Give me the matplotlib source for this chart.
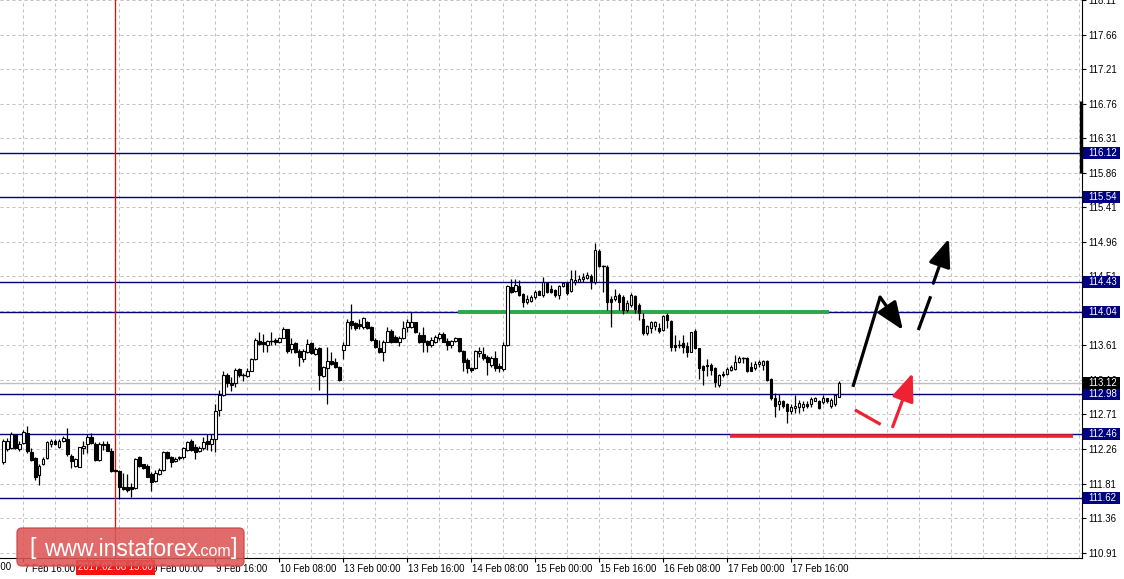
import matplotlib

matplotlib.use("Agg")
import matplotlib.pyplot as plt
from matplotlib.patches import Rectangle, FancyBboxPatch
from matplotlib.transforms import blended_transform_factory, ScaledTranslation

# hourly USDJPY candles, bar index 0..209 (7 Feb 11:00 .. 17 Feb 20:00)
opens = [
    112.09, 112.26, 112.27, 112.44, 112.26, 112.34, 112.47, 112.22, 112.14, 111.92,
    112.06, 112.14, 112.32, 112.37, 112.28, 112.36, 112.39, 112.17, 112.04, 112.03,
    112.27, 112.32, 112.41, 112.33, 112.12, 112.33, 112.32, 112.24, 111.99, 111.97,
    111.76, 111.76, 111.77, 111.75, 112.15, 112.06, 112.04, 111.93, 111.84, 111.93,
    111.99, 112.22, 112.16, 112.10, 112.14, 112.16, 112.25, 112.36, 112.29, 112.23,
    112.27, 112.36, 112.33, 112.39, 112.77, 112.97, 113.23, 113.12, 113.12, 113.30,
    113.22, 113.21, 113.28, 113.43, 113.67, 113.66, 113.62, 113.67, 113.68, 113.66,
    113.71, 113.82, 113.56, 113.64, 113.54, 113.43, 113.53, 113.64, 113.50, 113.57,
    113.21, 113.32, 113.41, 113.39, 113.33, 113.55, 113.62, 113.93, 113.90, 113.89,
    113.85, 113.91, 113.85, 113.68, 113.57, 113.52, 113.66, 113.80, 113.72, 113.66,
    113.70, 113.85, 113.85, 113.91, 113.75, 113.75, 113.67, 113.62, 113.65, 113.70,
    113.76, 113.67, 113.62, 113.67, 113.70, 113.54, 113.42, 113.31, 113.31, 113.51,
    113.50, 113.46, 113.36, 113.45, 113.34, 113.30, 113.62, 114.37, 114.32, 114.38,
    114.28, 114.17, 114.19, 114.24, 114.32, 114.27, 114.42, 114.34, 114.33, 114.27,
    114.38, 114.42, 114.32, 114.44, 114.44, 114.47, 114.49, 114.51, 114.43, 114.84,
    114.64, 114.63, 114.21, 114.21, 114.27, 114.24, 114.07, 114.14, 114.25, 114.14,
    113.96, 113.77, 113.84, 113.86, 113.84, 113.81, 114.01, 113.93, 113.62, 113.62,
    113.64, 113.60, 113.53, 113.80, 113.57, 113.34, 113.36, 113.36, 113.31, 113.09,
    113.24, 113.24, 113.29, 113.30, 113.40, 113.44, 113.44, 113.33, 113.31, 113.37,
    113.36, 113.41, 113.17, 112.92, 112.84, 112.88, 112.84, 112.75, 112.79, 112.81,
    112.81, 112.84, 112.85, 112.89, 112.89, 112.87, 112.92, 112.82, 112.84, 112.94,
]
highs = [
    112.39, 112.40, 112.48, 112.45, 112.36, 112.51, 112.56, 112.27, 112.16, 112.06,
    112.15, 112.37, 112.39, 112.39, 112.39, 112.43, 112.53, 112.19, 112.14, 112.29,
    112.36, 112.46, 112.47, 112.35, 112.35, 112.37, 112.37, 112.27, 112.00, 111.99,
    111.95, 111.93, 111.82, 112.14, 112.17, 112.07, 112.06, 111.96, 111.99, 112.01,
    112.23, 112.24, 112.17, 112.16, 112.17, 112.29, 112.36, 112.39, 112.32, 112.30,
    112.41, 112.45, 112.45, 112.85, 113.03, 113.28, 113.25, 113.20, 113.31, 113.32,
    113.25, 113.31, 113.45, 113.70, 113.78, 113.76, 113.68, 113.78, 113.71, 113.72,
    113.85, 113.83, 113.70, 113.66, 113.56, 113.56, 113.69, 113.66, 113.59, 113.59,
    113.34, 113.59, 113.53, 113.45, 113.34, 113.65, 113.95, 114.15, 113.92, 113.96,
    113.98, 113.93, 113.86, 113.70, 113.68, 113.68, 113.85, 113.82, 113.75, 113.73,
    113.93, 113.95, 114.05, 113.92, 113.78, 113.85, 113.68, 113.72, 113.75, 113.78,
    113.78, 113.71, 113.68, 113.72, 113.71, 113.55, 113.44, 113.33, 113.55, 113.59,
    113.59, 113.49, 113.47, 113.54, 113.38, 113.66, 114.40, 114.48, 114.48, 114.46,
    114.29, 114.27, 114.27, 114.33, 114.33, 114.50, 114.44, 114.40, 114.35, 114.40,
    114.44, 114.44, 114.59, 114.59, 114.53, 114.55, 114.57, 114.54, 114.95, 114.87,
    114.66, 114.66, 114.25, 114.35, 114.29, 114.27, 114.20, 114.29, 114.27, 114.16,
    114.03, 113.88, 113.93, 113.93, 113.90, 114.01, 114.03, 113.94, 113.75, 113.68,
    113.75, 113.66, 113.79, 113.82, 113.58, 113.36, 113.43, 113.38, 113.33, 113.24,
    113.27, 113.33, 113.36, 113.49, 113.47, 113.46, 113.46, 113.40, 113.41, 113.42,
    113.42, 113.42, 113.18, 112.99, 112.98, 112.90, 112.86, 112.84, 112.97, 112.90,
    112.88, 112.88, 112.94, 112.94, 112.90, 112.97, 112.93, 112.92, 112.97, 113.14,
]
lows = [
    112.06, 112.24, 112.26, 112.26, 112.24, 112.33, 112.21, 112.11, 111.85, 111.79,
    112.05, 112.13, 112.29, 112.31, 112.27, 112.35, 112.17, 112.01, 112.03, 112.02,
    112.20, 112.21, 112.33, 112.11, 112.10, 112.25, 112.23, 111.96, 111.96, 111.61,
    111.73, 111.70, 111.64, 111.74, 112.03, 112.00, 111.89, 111.71, 111.83, 111.92,
    111.98, 112.13, 112.03, 112.09, 112.12, 112.13, 112.23, 112.23, 112.13, 112.22,
    112.25, 112.25, 112.23, 112.22, 112.69, 112.95, 113.07, 113.01, 113.07, 113.20,
    113.14, 113.20, 113.27, 113.42, 113.62, 113.53, 113.53, 113.62, 113.62, 113.64,
    113.70, 113.51, 113.51, 113.51, 113.34, 113.40, 113.51, 113.50, 113.49, 113.03,
    113.20, 112.84, 113.36, 113.32, 113.14, 113.43, 113.61, 113.83, 113.81, 113.83,
    113.83, 113.82, 113.67, 113.57, 113.51, 113.41, 113.65, 113.64, 113.65, 113.60,
    113.69, 113.78, 113.84, 113.77, 113.64, 113.53, 113.53, 113.59, 113.64, 113.68,
    113.65, 113.55, 113.57, 113.65, 113.53, 113.27, 113.25, 113.26, 113.30, 113.46,
    113.42, 113.23, 113.33, 113.28, 113.26, 113.27, 113.60, 114.29, 114.31, 114.25,
    114.11, 114.15, 114.18, 114.22, 114.27, 114.24, 114.29, 114.29, 114.24, 114.22,
    114.37, 114.27, 114.31, 114.40, 114.43, 114.44, 114.47, 114.35, 114.41, 114.63,
    114.30, 114.07, 113.85, 114.19, 114.07, 114.02, 114.05, 114.11, 114.03, 113.94,
    113.75, 113.75, 113.77, 113.81, 113.77, 113.80, 113.84, 113.54, 113.54, 113.57,
    113.51, 113.46, 113.52, 113.56, 113.17, 113.10, 113.21, 113.23, 113.07, 113.07,
    113.20, 113.23, 113.27, 113.29, 113.38, 113.38, 113.26, 113.27, 113.29, 113.33,
    113.29, 113.15, 112.90, 112.68, 112.77, 112.79, 112.60, 112.71, 112.73, 112.73,
    112.75, 112.79, 112.81, 112.88, 112.78, 112.85, 112.86, 112.79, 112.82, 112.94,
]
closes = [
    112.36, 112.37, 112.45, 112.27, 112.33, 112.48, 112.23, 112.12, 111.90, 112.04,
    112.13, 112.35, 112.37, 112.32, 112.37, 112.40, 112.19, 112.10, 112.13, 112.28,
    112.30, 112.41, 112.34, 112.12, 112.32, 112.31, 112.24, 111.97, 111.97, 111.77,
    111.74, 111.72, 111.74, 112.13, 112.04, 112.01, 111.90, 111.83, 111.95, 111.99,
    112.22, 112.14, 112.09, 112.13, 112.16, 112.27, 112.35, 112.25, 112.22, 112.27,
    112.35, 112.33, 112.39, 112.75, 112.97, 113.23, 113.12, 113.10, 113.29, 113.22,
    113.21, 113.28, 113.43, 113.68, 113.63, 113.63, 113.67, 113.66, 113.66, 113.70,
    113.83, 113.54, 113.63, 113.53, 113.46, 113.54, 113.63, 113.51, 113.56, 113.23,
    113.33, 113.41, 113.37, 113.33, 113.16, 113.62, 113.91, 113.88, 113.84, 113.86,
    113.97, 113.84, 113.68, 113.59, 113.53, 113.65, 113.80, 113.66, 113.66, 113.71,
    113.84, 113.92, 113.91, 113.78, 113.66, 113.65, 113.62, 113.68, 113.72, 113.76,
    113.66, 113.62, 113.67, 113.70, 113.54, 113.40, 113.31, 113.29, 113.54, 113.54,
    113.44, 113.39, 113.45, 113.32, 113.31, 113.62, 114.38, 114.31, 114.40, 114.27,
    114.17, 114.22, 114.24, 114.31, 114.27, 114.43, 114.30, 114.31, 114.27, 114.38,
    114.42, 114.29, 114.47, 114.46, 114.48, 114.50, 114.53, 114.43, 114.85, 114.64,
    114.63, 114.17, 114.18, 114.26, 114.18, 114.07, 114.16, 114.27, 114.09, 114.03,
    113.77, 113.86, 113.91, 113.91, 113.80, 113.99, 113.94, 113.59, 113.59, 113.61,
    113.59, 113.53, 113.78, 113.57, 113.31, 113.29, 113.34, 113.29, 113.13, 113.23,
    113.22, 113.30, 113.33, 113.40, 113.44, 113.43, 113.27, 113.28, 113.37, 113.40,
    113.41, 113.16, 112.92, 112.82, 112.89, 112.82, 112.75, 112.81, 112.82, 112.86,
    112.84, 112.82, 112.91, 112.92, 112.79, 112.92, 112.89, 112.90, 112.97, 113.12,
]

price_ticks = [110.91, 111.36, 111.81, 112.26, 112.71, 113.16, 113.61, 114.06,
               114.51, 114.96, 115.41, 115.86, 116.31, 116.76, 117.21, 117.66, 118.11]
levels = [116.12, 115.54, 114.43, 114.04, 112.98, 112.46, 111.62]
bid = 113.12

# date labels sit every 16 bars, the first one 11 bars before the first candle
date_labels = ["7 Feb 00:00", "7 Feb 16:00", "8 Feb 08:00", "9 Feb 00:00", "9 Feb 16:00",
               "10 Feb 08:00", "13 Feb 00:00", "13 Feb 16:00", "14 Feb 08:00",
               "15 Feb 00:00", "15 Feb 16:00", "16 Feb 08:00", "17 Feb 00:00", "17 Feb 16:00"]
date_pos = [-11 + 16 * k for k in range(len(date_labels))]
cross_bar = 28
cross_label = "2017.02.08 15:00"

# analyst markup (bar index, price)
support_zone = (113.7, 206.4, 114.05)
target_zone = (181.7, 267.4, 112.43)
black_path_1 = [(212.4, 113.07), (219.2, 114.24), (224.9, 113.81)]
black_path_2 = [(228.75, 113.81), (231.85, 114.25)]
black_path_3 = [(232.5, 114.42), (236.4, 115.00)]
red_path_1 = [(212.9, 112.77), (219.35, 112.58)]
red_path_2 = [(222.35, 112.55), (227.35, 113.25)]

W, H = 1124, 579
NAVY = "#000080"
GRID = "#c0c0c0"
FONT = "Liberation Sans"
FS = 6.9

fig = plt.figure(figsize=(W / 100, H / 100), dpi=100)
ax = fig.add_axes([0, 21 / H, 1082 / W, 558 / H])

# grid
for p in price_ticks:
    ax.axhline(p, color=GRID, lw=0.72, ls=(0, (3, 3)), zorder=0)
for gx in range(-3, 270, 8):
    ax.axvline(gx, color=GRID, lw=0.72, ls=(0, (3, 3)), zorder=0)

# horizontal levels
for lv in levels:
    ax.axhline(lv, color=NAVY, lw=1.0, zorder=1)
ax.axhline(bid, color=GRID, lw=1.0, zorder=1)

# crosshair
ax.axvline(cross_bar, color="#ff0000", lw=0.9, zorder=1)

# candles
bw = 0.6
for i, (o, h, l, c) in enumerate(zip(opens, highs, lows, closes)):
    ax.plot([i, i], [l, h], color="black", lw=0.9, zorder=3, solid_capstyle="butt")
    lo, hi = min(o, c), max(o, c)
    if hi - lo < 0.012:
        ax.plot([i - bw / 2, i + bw / 2], [o, o], color="black", lw=1.0, zorder=4)
    else:
        ax.add_patch(Rectangle((i - bw / 2, lo), bw, hi - lo,
                               facecolor="white" if c >= o else "black",
                               edgecolor="black", lw=0.8, zorder=4))

# markup lines
x0, x1, y = support_zone
ax.plot([x0, x1], [y, y], color="#2aa84a", lw=2.8, zorder=2, solid_capstyle="butt")
x0, x1, y = target_zone
ax.plot([x0, x1], [y, y], color="#ee2233", lw=2.6, zorder=2, solid_capstyle="butt")


def arrow(path, color, head):
    xs, ys = zip(*path)
    if head:
        if len(path) > 2:
            ax.plot(xs[:-1], ys[:-1], color=color, lw=2.3, zorder=6, solid_capstyle="butt")
        ax.annotate("", xy=path[-1], xytext=path[-2], zorder=6,
                    arrowprops=dict(arrowstyle="-|>,head_length=0.85,head_width=0.34",
                                    mutation_scale=20, color=color, lw=2.3,
                                    shrinkA=0, shrinkB=0))
    else:
        ax.plot(xs, ys, color=color, lw=2.3, zorder=6, solid_capstyle="butt")


arrow(black_path_1, "black", True)
arrow(black_path_2, "black", False)
arrow(black_path_3, "black", True)
arrow(red_path_1, "#ee2233", False)
arrow(red_path_2, "#ee2233", True)

# axes look
for side in ("top", "left"):
    ax.spines[side].set_visible(False)
ax.yaxis.tick_right()
ax.set_yticks(price_ticks)
ax.set_yticklabels([f"{p:.2f}" for p in price_ticks], fontfamily=FONT, fontsize=FS)
ax.tick_params(axis="y", length=3, width=0.8, pad=1.5)
ax.set_xticks(date_pos[1:])
ax.set_xticklabels(date_labels[1:], fontfamily=FONT, fontsize=FS, ha="left")
ax.tick_params(axis="x", length=3, width=0.8, pad=1.5)
shift = ScaledTranslation(0.5 / 100, 0, fig.dpi_scale_trans)
for lab in ax.get_xticklabels():
    lab.set_transform(lab.get_transform() + shift)
# limits last: set_xticks would widen them
ax.set_xlim(-0.825, 269.675)
ax.set_ylim(110.84, 118.11)

xtr = blended_transform_factory(ax.transData, ax.transAxes)
ytr = blended_transform_factory(ax.transAxes, ax.transData)

# first date label, mostly cut by the left edge
ax.text(date_pos[0], -0.0155, date_labels[0], transform=xtr + shift, ha="left", va="center",
        fontfamily=FONT, fontsize=FS, clip_on=False)

# price boxes on the right scale
px = 1 / 1082
lab_shift = ScaledTranslation(6 / 100, 0, fig.dpi_scale_trans)
box_h = 12 / 76.9
for lv, fc in [(v, NAVY) for v in levels] + [(bid, "black")]:
    ax.add_patch(Rectangle((1 + px, lv - box_h / 2), 37 * px, box_h, transform=ytr,
                           fc=fc, ec="none", clip_on=False, zorder=9))
    ax.text(1.0, lv, f"{lv:.2f}", transform=ytr + lab_shift, ha="left", va="center",
            fontfamily=FONT, fontsize=FS, color="white", clip_on=False, zorder=10)
ax.plot([1 - 1.5 * px, 1 - 1.5 * px], [115.85, 116.80], transform=ytr, color="black", lw=2.4,
        clip_on=False, zorder=10, solid_capstyle="butt")

# crosshair time label
ax.text(cross_bar, -0.0165, cross_label, transform=xtr, ha="center", va="center",
        fontfamily=FONT, fontsize=FS, color="white", clip_on=False, zorder=10,
        bbox=dict(boxstyle="square,pad=0.25", fc="#ff1010", ec="none"))

# watermark, in pixel coordinates
ov = fig.add_axes([0, 0, 1, 1], facecolor="none")
ov.set_xlim(0, W)
ov.set_ylim(H, 0)
ov.axis("off")
ov.add_patch(FancyBboxPatch((20, 531), 221, 32, boxstyle="round,pad=3,rounding_size=5",
                            fc="#dd5555", ec="#c94848", lw=1, alpha=0.88, zorder=1))
ov.text(33, 548, "[", color="white", fontsize=17, fontfamily=FONT, ha="center", va="center", zorder=2)
ov.text(44, 549, "www.instaforex", color="white", fontsize=16.5, fontfamily=FONT,
        ha="left", va="center", zorder=2)
ov.text(197, 551, ".com", color="white", fontsize=11.5, fontfamily=FONT,
        ha="left", va="center", zorder=2)
ov.text(234, 548, "]", color="white", fontsize=17, fontfamily=FONT, ha="center", va="center", zorder=2)

fig.savefig("out.png", dpi=100, facecolor="white")
